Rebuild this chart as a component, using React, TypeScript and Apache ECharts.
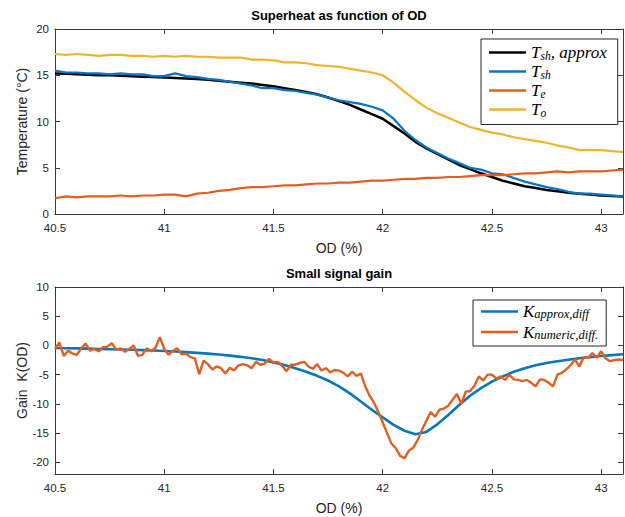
import React, { useEffect, useRef } from "react";
import * as echarts from "echarts";

// ---- Data (OD in %, sampled from odStart with given step) ----
const odStart = 40.5;
const coarseStep = 0.05; // top-plot series and smooth approximation
const fineStep = 0.02; // numeric gain

const xTicks = [40.5, 41, 41.5, 42, 42.5, 43];
const tempTicks = [0, 5, 10, 15, 20];
const gainTicks = [-20, -15, -10, -5, 0, 5, 10];

// T_sh, approx (black)
const tshApprox = [
  15.2, 15.15, 15.1, 15.05, 15.0, 15.0, 14.95, 14.9, 14.85, 14.8, 14.75, 14.7, 14.65, 14.6,
  14.5, 14.4, 14.3, 14.2, 14.1, 13.95, 13.8, 13.6, 13.4, 13.2, 12.95, 12.6, 12.2, 11.8, 11.3,
  10.8, 10.3, 9.5, 8.7, 7.8, 7.1, 6.5, 5.9, 5.3, 4.85, 4.4, 4.0, 3.6, 3.3, 3.0, 2.8, 2.6, 2.45,
  2.3, 2.2, 2.1, 2.0, 1.95, 1.9,
];
// T_sh (blue)
const tsh = [
  15.5, 15.3, 15.3, 15.2, 15.2, 15.1, 15.2, 15.1, 15.1, 14.9, 14.9, 15.2, 14.9, 14.8, 14.6,
  14.5, 14.3, 14.1, 13.9, 13.6, 13.6, 13.4, 13.3, 13.1, 12.9, 12.6, 12.3, 12.1, 11.9, 11.6,
  11.2, 10.3, 9.0, 8.0, 7.2, 6.6, 6.0, 5.5, 5.0, 4.8, 4.4, 4.3, 3.9, 3.5, 3.2, 2.9, 2.7, 2.4,
  2.2, 2.2, 2.1, 2.0, 1.9,
];
// T_e (orange)
const te = [
  1.7, 1.9, 1.8, 1.9, 1.9, 1.9, 2.0, 1.9, 2.0, 2.0, 2.1, 2.1, 1.9, 2.2, 2.3, 2.5, 2.6, 2.8,
  2.9, 2.9, 3.0, 3.1, 3.1, 3.2, 3.3, 3.3, 3.4, 3.4, 3.5, 3.6, 3.6, 3.7, 3.8, 3.8, 3.9, 3.9,
  4.0, 4.0, 4.1, 4.2, 4.2, 4.2, 4.3, 4.4, 4.4, 4.5, 4.6, 4.5, 4.6, 4.6, 4.6, 4.7, 4.8,
];
// T_o (yellow)
const to = [
  17.3, 17.2, 17.3, 17.2, 17.1, 17.2, 17.2, 17.1, 17.1, 17.0, 17.1, 17.0, 17.1, 17.0, 17.0,
  16.9, 16.9, 16.9, 16.7, 16.7, 16.6, 16.4, 16.4, 16.3, 16.1, 16.0, 15.9, 15.7, 15.5, 15.3,
  15.0, 14.2, 13.2, 12.3, 11.5, 10.9, 10.4, 9.9, 9.4, 9.1, 8.8, 8.6, 8.3, 8.1, 7.9, 7.7, 7.4,
  7.2, 6.9, 6.9, 6.9, 6.8, 6.7,
];
// K_approx,diff (blue, smooth)
const kApprox = [
  -0.45, -0.47, -0.5, -0.55, -0.6, -0.65, -0.7, -0.75, -0.8, -0.87, -0.95, -1.05, -1.15,
  -1.27, -1.4, -1.55, -1.75, -1.95, -2.2, -2.5, -2.9, -3.35, -3.9, -4.5, -5.2, -6.0, -7.0,
  -8.2, -9.6, -11.0, -12.3, -13.6, -14.6, -15.2, -14.8, -13.5, -11.9, -10.2, -8.6, -7.3,
  -6.2, -5.3, -4.5, -3.9, -3.4, -3.0, -2.7, -2.45, -2.2, -2.0, -1.8, -1.65, -1.5,
];
// K_numeric,diff. (orange, noisy)
const kNumeric = [
  -0.6, 0.5, -1.8, -0.9, -1.4, -1.6, -0.5, 0.3, -0.9, -0.6, -1.0, -0.3, -0.2, 0.4, -0.7,
  -0.5, -1.1, -0.6, 0.0, -1.8, -1.6, -0.5, -1.0, -0.4, 1.4, -0.6, -1.6, -0.9, -0.5, -1.5,
  -1.4, -2.0, -2.2, -4.9, -2.6, -3.2, -4.1, -3.6, -3.9, -4.8, -3.8, -4.3, -3.4, -3.2, -3.4,
  -3.9, -2.8, -3.3, -3.1, -2.3, -3.0, -2.8, -3.5, -4.4, -3.3, -3.3, -3.0, -2.8, -3.6, -4.0,
  -3.2, -4.3, -3.9, -4.6, -4.2, -4.3, -4.7, -5.3, -4.5, -5.2, -4.8, -7.0, -8.6, -9.8, -11.4,
  -13.2, -15.0, -16.8, -17.6, -18.9, -19.3, -18.0, -17.5, -16.2, -14.4, -12.9, -11.4, -12.2,
  -11.0, -10.8, -10.3, -9.3, -8.3, -10.0, -7.9, -7.8, -6.9, -5.3, -6.0, -5.0, -5.0, -5.7,
  -5.3, -5.9, -5.0, -5.8, -5.9, -6.1, -5.9, -6.4, -7.0, -5.8, -5.9, -6.4, -7.0, -5.0, -4.7,
  -4.1, -3.4, -2.4, -3.6, -2.0, -2.1, -1.3, -2.1, -1.0, -2.2, -2.7, -2.5, -2.4, -2.5,
];

const pairs = (vals: number[], step: number) =>
  vals.map((v, i) => [Number((odStart + i * step).toFixed(2)), v]);

const C_BLUE = "#0876BF";
const C_ORANGE = "#E25E22";
const C_YELLOW = "#F0B429";
const C_BLACK = "#000000";
const AXIS = "#3a3a3a";
const TXT = "#262626";
const SANS = "'Liberation Sans', Arial, Helvetica, sans-serif";
const SERIF = "'Liberation Serif', 'Times New Roman', serif";

const legendLabels: Record<string, string> = {
  "T_sh, approx": "{m|T}{s|sh}{m|, approx}",
  "T_sh": "{m|T}{s|sh}",
  "T_e": "{m|T}{s|e}",
  "T_o": "{m|T}{s|o}",
  "K_approx,diff": "{m|K}{s|approx,diff}",
  "K_numeric,diff.": "{m|K}{s|numeric,diff.}",
};

const richTop = {
  m: { fontFamily: SERIF, fontStyle: "italic", fontSize: 17, lineHeight: 18, color: "#000" },
  s: {
    fontFamily: SERIF,
    fontStyle: "italic",
    fontSize: 11.5,
    lineHeight: 11,
    verticalAlign: "bottom",
    color: "#000",
  },
};
const richBottom = {
  m: { fontFamily: SERIF, fontStyle: "italic", fontSize: 17, lineHeight: 18, color: "#000" },
  s: {
    fontFamily: SERIF,
    fontStyle: "italic",
    fontSize: 12.5,
    lineHeight: 11,
    verticalAlign: "bottom",
    color: "#000",
  },
};

function xAxisCfg(gridIndex: number, top: boolean) {
  return {
    type: "value",
    gridIndex,
    position: top ? "top" : "bottom",
    min: 40.5,
    max: 43.1,
    name: top ? "" : "OD (%)",
    nameLocation: "middle",
    nameGap: 27,
    nameMoveOverlap: false,
    nameTextStyle: { fontFamily: SANS, fontSize: 14, color: TXT },
    axisLine: { show: true, onZero: false, lineStyle: { color: AXIS, width: 1 } },
    axisTick: { show: true, inside: true, length: 5, customValues: xTicks, lineStyle: { color: AXIS } },
    axisLabel: {
      show: !top,
      customValues: xTicks,
      margin: 8,
      fontFamily: SANS,
      fontSize: 11.5,
      color: TXT,
    },
    splitLine: { show: false },
  };
}

function yAxisCfg(gridIndex: number, right: boolean, min: number, max: number, ticks: number[], name: string) {
  return {
    type: "value",
    gridIndex,
    position: right ? "right" : "left",
    min,
    max,
    name: right ? "" : name,
    nameLocation: "middle",
    nameGap: 26,
    nameMoveOverlap: false,
    nameTextStyle: { fontFamily: SANS, fontSize: 14, color: TXT },
    axisLine: { show: true, onZero: false, lineStyle: { color: AXIS, width: 1 } },
    axisTick: { show: true, inside: true, length: 5, customValues: ticks, lineStyle: { color: AXIS } },
    axisLabel: {
      show: !right,
      customValues: ticks,
      margin: 6,
      fontFamily: SANS,
      fontSize: 11.5,
      color: TXT,
    },
    splitLine: { show: false },
  };
}

function line(name: string, data: number[][], color: string, xi: number, yi: number, width = 2) {
  return {
    type: "line",
    name,
    data,
    xAxisIndex: xi,
    yAxisIndex: yi,
    showSymbol: false,
    symbol: "none",
    lineStyle: { color, width },
    itemStyle: { color },
    z: 3,
  };
}

export default function App() {
  const ref = useRef<HTMLDivElement>(null);
  useEffect(() => {
    if (!ref.current) return;
    const chart = echarts.init(ref.current, undefined, { renderer: "svg" });
    const legendCommon = {
      orient: "vertical",
      icon: "rect",
      itemWidth: 37,
      itemHeight: 2.5,
      backgroundColor: "#fff",
      borderColor: "#262626",
      borderWidth: 1,
      borderRadius: 0,
      formatter: (n: string) => legendLabels[n] ?? n,
    };
    chart.setOption({
      animation: false,
      backgroundColor: "#fff",
      title: [
        {
          text: "Superheat as function of OD",
          left: 339,
          textAlign: "center",
          top: 9,
          padding: 0,
          textStyle: { fontFamily: SANS, fontSize: 13, fontWeight: "bold", color: "#000" },
        },
        {
          text: "Small signal gain",
          left: 339,
          textAlign: "center",
          top: 267,
          padding: 0,
          textStyle: { fontFamily: SANS, fontSize: 13, fontWeight: "bold", color: "#000" },
        },
      ],
      legend: [
        {
          ...legendCommon,
          data: ["T_sh, approx", "T_sh", "T_e", "T_o"],
          left: 481,
          top: 39,
          itemGap: 1.5,
          padding: [5, 11, 6, 8],
          textStyle: { rich: richTop },
        },
        {
          ...legendCommon,
          data: ["K_approx,diff", "K_numeric,diff."],
          left: 473,
          top: 300,
          itemGap: 3,
          padding: [3, 8, 5, 8],
          textStyle: { rich: richBottom },
        },
      ],
      grid: [
        { left: 55, top: 29, width: 568, height: 185, show: false },
        { left: 55, top: 287, width: 568, height: 187, show: false },
      ],
      xAxis: [xAxisCfg(0, false), xAxisCfg(0, true), xAxisCfg(1, false), xAxisCfg(1, true)],
      yAxis: [
        yAxisCfg(0, false, 0, 20, tempTicks, "Temperature (°C)"),
        yAxisCfg(0, true, 0, 20, tempTicks, ""),
        yAxisCfg(1, false, -22, 10, gainTicks, "Gain  K(OD)"),
        yAxisCfg(1, true, -22, 10, gainTicks, ""),
      ],
      series: [
        line("T_sh, approx", pairs(tshApprox, coarseStep), C_BLACK, 0, 0, 2.5),
        line("T_sh", pairs(tsh, coarseStep), C_BLUE, 0, 0, 2.2),
        line("T_e", pairs(te, coarseStep), C_ORANGE, 0, 0, 2.2),
        line("T_o", pairs(to, coarseStep), C_YELLOW, 0, 0, 2.2),
        line("K_approx,diff", pairs(kApprox, coarseStep), C_BLUE, 2, 2, 2.6),
        line("K_numeric,diff.", pairs(kNumeric, fineStep), C_ORANGE, 2, 2, 2.4),
      ],
    });
    return () => chart.dispose();
  }, []);
  return (
    <div
      ref={ref}
      style={{ position: "fixed", left: 0, top: 0, width: 625, height: 517, background: "#fff" }}
    />
  );
}
